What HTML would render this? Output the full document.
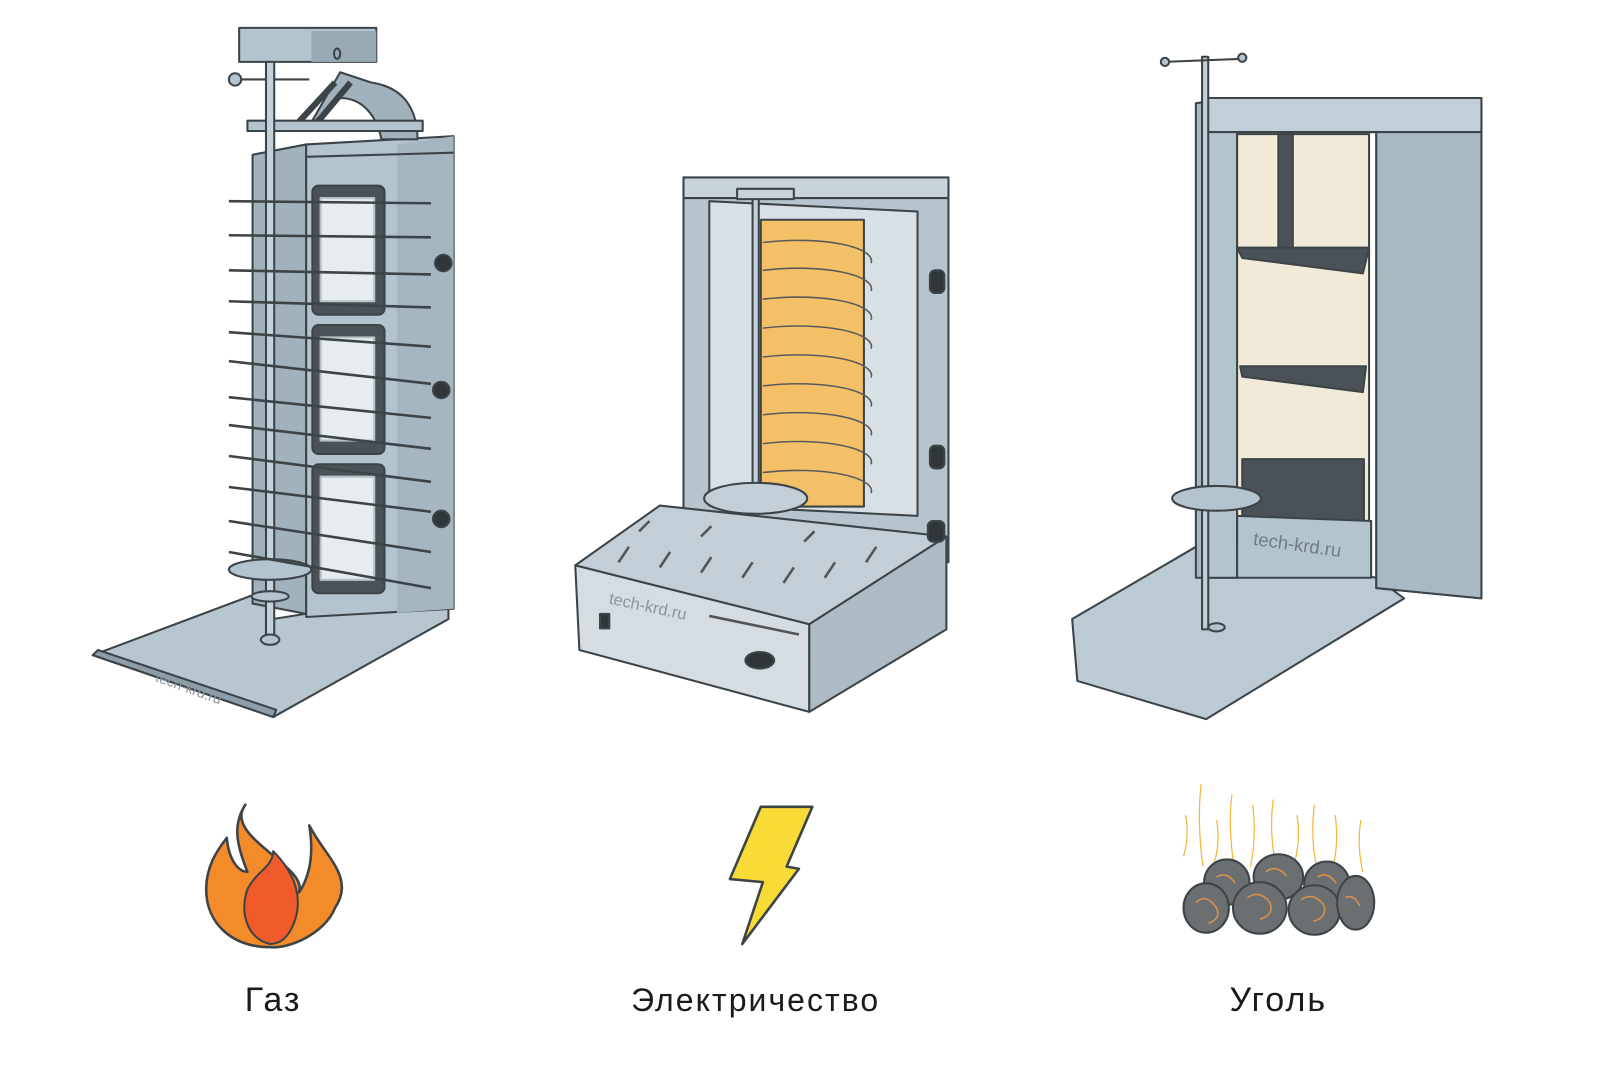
<!DOCTYPE html>
<html><head><meta charset="utf-8"><style>
html,body{margin:0;padding:0;background:#fff;}
svg{display:block}
text{font-family:"Liberation Sans","DejaVu Sans",sans-serif;fill:#1a1a1a;}
</style></head><body>
<svg width="1600" height="1073" viewBox="0 0 1552 1040" preserveAspectRatio="none" xmlns="http://www.w3.org/2000/svg">
<g stroke="#3d4448" stroke-width="2" stroke-linejoin="round">
<polygon points="90,635 265,695 435,600 435,585 390,580 265,600 250,575" fill="#b8c6d0"/>
<polygon points="90,635 265,695 268,688 95,630" fill="#8e9ea9"/>
<polygon points="245,150 297,140 297,595 245,585" fill="#a2b2bd"/>
<polygon points="297,140 440,132 440,590 297,598" fill="#b4c4cf"/>
<polygon points="385,140 440,132 440,590 385,594" fill="#a6b6c1" stroke="none"/>
<line x1="297" y1="152" x2="440" y2="148"/>
<path d="M300,122 L330,70 L360,80 C395,85 405,110 405,135 L370,135 C365,110 350,95 330,95 Z" fill="#a2b2bd"/>
<rect x="232" y="27" width="133" height="33" fill="#b4c4cf"/>
<rect x="302" y="30" width="63" height="30" fill="#9aaab5" stroke="none"/>
<ellipse cx="327" cy="52" rx="3" ry="5" fill="none"/>
<line x1="290" y1="118" x2="325" y2="80" stroke-width="6"/>
<line x1="305" y1="122" x2="340" y2="80" stroke-width="6"/>
<rect x="240" y="117" width="170" height="10" fill="#b4c4cf"/>
<line x1="228" y1="77" x2="300" y2="77"/>
<circle cx="228" cy="77" r="6" fill="#b4c4cf"/>
<g>
<rect x="303" y="180" width="70" height="125" rx="6" fill="#4a5257"/>
<rect x="311" y="192" width="52" height="100" fill="#e6ecef" stroke="#b7c0c5"/>
<rect x="303" y="315" width="70" height="125" rx="6" fill="#4a5257"/>
<rect x="311" y="327" width="52" height="100" fill="#e6ecef" stroke="#b7c0c5"/>
<rect x="303" y="450" width="70" height="125" rx="6" fill="#4a5257"/>
<rect x="311" y="462" width="52" height="100" fill="#e6ecef" stroke="#b7c0c5"/>
</g>
<rect x="258" y="60" width="8" height="560" fill="#c4d1d9"/>
<ellipse cx="262" cy="552" rx="40" ry="10" fill="#b4c4cf"/>
<ellipse cx="262" cy="578" rx="18" ry="5" fill="#b4c4cf"/>
<ellipse cx="262" cy="620" rx="9" ry="5" fill="#b4c4cf"/>
<g stroke-width="2.5">
<line x1="222" y1="195" x2="418" y2="197"/><line x1="222" y1="228" x2="418" y2="230"/>
<line x1="222" y1="262" x2="418" y2="266"/><line x1="222" y1="292" x2="418" y2="298"/>
<line x1="222" y1="322" x2="418" y2="336"/><line x1="222" y1="350" x2="418" y2="372"/>
<line x1="222" y1="385" x2="418" y2="405"/><line x1="222" y1="412" x2="418" y2="435"/>
<line x1="222" y1="442" x2="418" y2="467"/><line x1="222" y1="472" x2="418" y2="496"/>
<line x1="222" y1="505" x2="418" y2="535"/><line x1="222" y1="535" x2="418" y2="570"/>
</g>
<g fill="#2f3538"><circle cx="430" cy="255" r="8"/><circle cx="428" cy="378" r="8"/><circle cx="428" cy="503" r="8"/></g>

<polygon points="663,172 920,180 920,545 663,500" fill="#b7c4cd"/>
<rect x="663" y="172" width="257" height="20" fill="#c9d3da"/>
<polygon points="688,195 890,205 890,500 688,490" fill="#d9e0e5"/>
<rect x="738" y="213" width="100" height="278" fill="#f3c067"/>
<g stroke="#5a5a5a" stroke-width="1.5" fill="none">
<path d="M740,235 C800,228 850,240 845,255"/><path d="M740,262 C800,255 850,267 845,282"/>
<path d="M740,290 C800,283 850,295 845,310"/><path d="M740,318 C800,311 850,323 845,338"/>
<path d="M740,346 C800,339 850,351 845,366"/><path d="M740,374 C800,367 850,379 845,394"/>
<path d="M740,402 C800,395 850,407 845,422"/><path d="M740,430 C800,423 850,435 845,450"/>
<path d="M740,458 C800,451 850,463 845,478"/>
</g>
<rect x="730" y="185" width="6" height="300" fill="#c4d1d9"/>
<rect x="715" y="183" width="55" height="10" fill="#c9d3da"/>
<polygon points="558,548 640,490 918,520 785,605" fill="#c3ced6"/>
<polygon points="558,548 785,605 785,690 562,630" fill="#d6dde2"/>
<polygon points="785,605 918,520 918,610 785,690" fill="#aebbc5"/>
<ellipse cx="733" cy="483" rx="50" ry="15" fill="#c3ced6"/>
<g fill="#2f3538"><rect x="902" y="262" width="14" height="22" rx="5"/><rect x="902" y="432" width="14" height="22" rx="5"/><rect x="900" y="505" width="16" height="20" rx="5"/>
<rect x="582" y="595" width="9" height="14"/><ellipse cx="737" cy="640" rx="14" ry="8"/></g>
<g stroke="#555" stroke-width="2.5">
<line x1="600" y1="545" x2="610" y2="530"/><line x1="640" y1="550" x2="650" y2="535"/><line x1="680" y1="555" x2="690" y2="540"/><line x1="720" y1="560" x2="730" y2="545"/><line x1="760" y1="565" x2="770" y2="550"/><line x1="800" y1="560" x2="810" y2="545"/><line x1="840" y1="545" x2="850" y2="530"/><line x1="620" y1="515" x2="630" y2="505"/><line x1="680" y1="520" x2="690" y2="510"/><line x1="780" y1="525" x2="790" y2="515"/>
<line x1="688" y1="597" x2="775" y2="615"/>
</g>
<text x="590" y="585" font-size="16" stroke="none" transform="rotate(12 590 585)" style="fill:#8a969e">tech-krd.ru</text>

<polygon points="1040,600 1045,660 1170,697 1362,580 1335,560 1160,530" fill="#bccad4"/>
<polygon points="1160,100 1200,95 1200,560 1160,560" fill="#a6b6c1"/>
<polygon points="1170,98 1437,95 1437,580 1335,570 1335,128 1200,128 1200,560 1170,560" fill="#b4c4cf"/>
<polygon points="1335,128 1437,118 1437,580 1335,570" fill="#a9b9c4"/>
<rect x="1170" y="95" width="267" height="33" fill="#c2cfd8"/>
<rect x="1200" y="130" width="128" height="400" fill="#f1ead8"/>
<rect x="1240" y="130" width="14" height="110" fill="#4a5257"/>
<polygon points="1200,240 1328,240 1322,265 1205,250" fill="#4a5257"/>
<polygon points="1203,355 1325,355 1322,380 1205,365" fill="#4a5257"/>
<rect x="1205" y="445" width="118" height="90" fill="#4a5257"/>
<polygon points="1200,500 1330,505 1330,560 1200,560" fill="#b4c4cf"/>
<text x="1215" y="528" font-size="18" stroke="none" transform="rotate(8 1215 528)" style="fill:#6f7c85">tech-krd.ru</text>
<rect x="1166" y="55" width="6" height="555" fill="#c4d1d9"/>
<line x1="1130" y1="60" x2="1205" y2="57"/>
<circle cx="1130" cy="60" r="4" fill="#b4c4cf"/><circle cx="1205" cy="56" r="4" fill="#b4c4cf"/>
<ellipse cx="1180" cy="483" rx="43" ry="12" fill="#b4c4cf"/>
<ellipse cx="1180" cy="608" rx="8" ry="4" fill="#b4c4cf"/>

<path d="M238,780 C215,810 300,840 290,865 C300,850 305,830 300,800 C315,830 345,850 325,880 C315,905 280,920 262,918 C225,918 200,895 200,862 C200,840 210,825 220,812 C222,835 232,845 240,845 C230,820 225,800 238,780 Z" fill="#f48b2b" stroke-width="2.5"/>
<path d="M262,915 C240,910 232,885 240,862 C248,845 265,840 265,825 C285,845 295,870 285,895 C280,908 272,915 262,915 Z" fill="#f15a2b"/>
<polygon points="738,782 788,782 763,840 775,842 720,915 740,855 708,852" fill="#f8db36" stroke-width="2.5"/>
<g fill="none" stroke="#f2b63a" stroke-width="1.2">
<path d="M1150,790 q4,20 -2,40"/><path d="M1165,760 q-4,40 2,80"/><path d="M1180,795 q4,20 -2,40"/><path d="M1195,770 q-4,30 2,70"/><path d="M1215,780 q4,30 -2,60"/><path d="M1235,775 q-4,30 2,60"/><path d="M1258,790 q4,20 -2,45"/><path d="M1275,780 q-4,30 2,60"/><path d="M1295,790 q4,25 -2,50"/><path d="M1320,795 q-4,25 2,50"/>
</g>
<g fill="#6b6f72" stroke-width="2">
<ellipse cx="1190" cy="855" rx="22" ry="22"/><ellipse cx="1240" cy="850" rx="24" ry="22"/><ellipse cx="1287" cy="857" rx="22" ry="22"/>
<ellipse cx="1170" cy="880" rx="22" ry="24"/><ellipse cx="1222" cy="880" rx="26" ry="25"/><ellipse cx="1275" cy="882" rx="25" ry="24"/><ellipse cx="1315" cy="875" rx="18" ry="26"/>
</g>
<g fill="none" stroke="#d8914a" stroke-width="1.5">
<path d="M1160,875 q10,-10 20,5 q5,10 -8,15"/><path d="M1210,870 q12,-8 22,5 q4,12 -10,16"/><path d="M1262,872 q12,-8 22,5 q4,12 -10,16"/><path d="M1228,845 q10,-8 20,4"/><path d="M1278,850 q10,-6 18,6"/><path d="M1180,850 q10,-6 18,6"/><path d="M1305,870 q8,-4 14,8"/>
</g>
</g>
<text x="265" y="990" font-size="33" text-anchor="middle" letter-spacing="2" transform="translate(0,-10)">Газ</text>
<text x="733" y="990" font-size="31" text-anchor="middle" letter-spacing="2" transform="translate(0,-10)">Электричество</text>
<text x="1240" y="990" font-size="33" text-anchor="middle" letter-spacing="2" transform="translate(0,-10)">Уголь</text>
<text x="150" y="660" font-size="14" transform="rotate(20 150 660)" style="fill:#8a969e">tech-krd.ru</text>
</svg>
</body></html>
